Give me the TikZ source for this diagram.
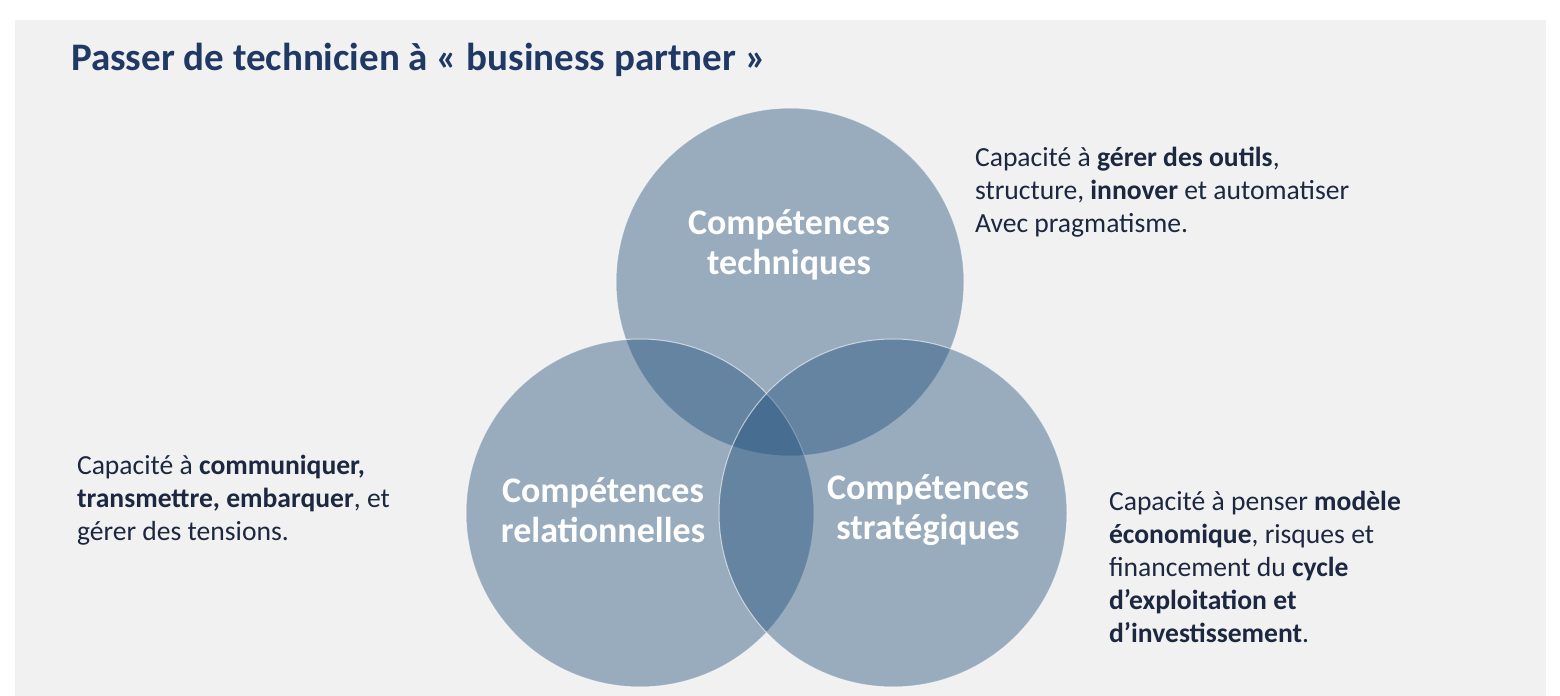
\documentclass[tikz,border=0pt]{standalone}
\usepackage{fontspec}
\setmainfont{Carlito}
\usetikzlibrary{positioning}
\definecolor{navy}{HTML}{1F3864}
\definecolor{inkc}{HTML}{1C2740}
\definecolor{ring}{HTML}{1F4E79}
\definecolor{paper}{HTML}{F1F1F1}
\tikzset{
  disc/.style={circle, minimum size=348, fill=ring, fill opacity=0.42, draw=white, draw opacity=0.6, line width=0.5pt},
  tag/.style={text=white, font=\fontsize{18}{20}\selectfont\bfseries, align=center},
  note/.style={text=inkc, font=\fontsize{13.8}{16.5}\selectfont, align=left, anchor=north west}
}
\begin{document}
\begin{tikzpicture}[x=0.5pt, y=-0.5pt]
  \useasboundingbox (0,0) rectangle (1560,696);
  \fill[white] (0,0) rectangle (1560,696);
  \fill[paper] (15,20) rectangle (1546,696);
  \node (title) [anchor=west, text=navy, font=\fontsize{19.5}{22}\selectfont\bfseries] at (64,60) {Passer de technicien à « business partner »};
  % three circles
  \node (tech) [disc, inner sep=0pt, minimum size=174pt] at (790,282) {};
  \node (rel) [disc, inner sep=0pt, minimum size=174pt] at (640,513) {};
  \node (strat) [disc, inner sep=0pt, minimum size=174pt] at (893,513) {};
  \node (techl) [tag] at (789,245) {Compétences\\techniques};
  \node (rell) [tag] at (603,510) {Compétences\\relationnelles};
  \node (stratl) [tag] at (928,510) {Compétences\\stratégiques};
  % notes
  \node (ntech) [note] at (968,140) {Capacité à \textbf{gérer des outils},\\structure, \textbf{innover} et automatiser\\Avec pragmatisme.};
  \node (nrel) [note] at (70,448) {Capacité à \textbf{communiquer,}\\\textbf{transmettre, embarquer}, et\\gérer des tensions.};
  \node (nstrat) [note] at (1102,484) {Capacité à penser \textbf{modèle}\\\textbf{économique}, risques et\\financement du \textbf{cycle}\\\textbf{d’exploitation et}\\\textbf{d’investissement}.};
\end{tikzpicture}
\end{document}
